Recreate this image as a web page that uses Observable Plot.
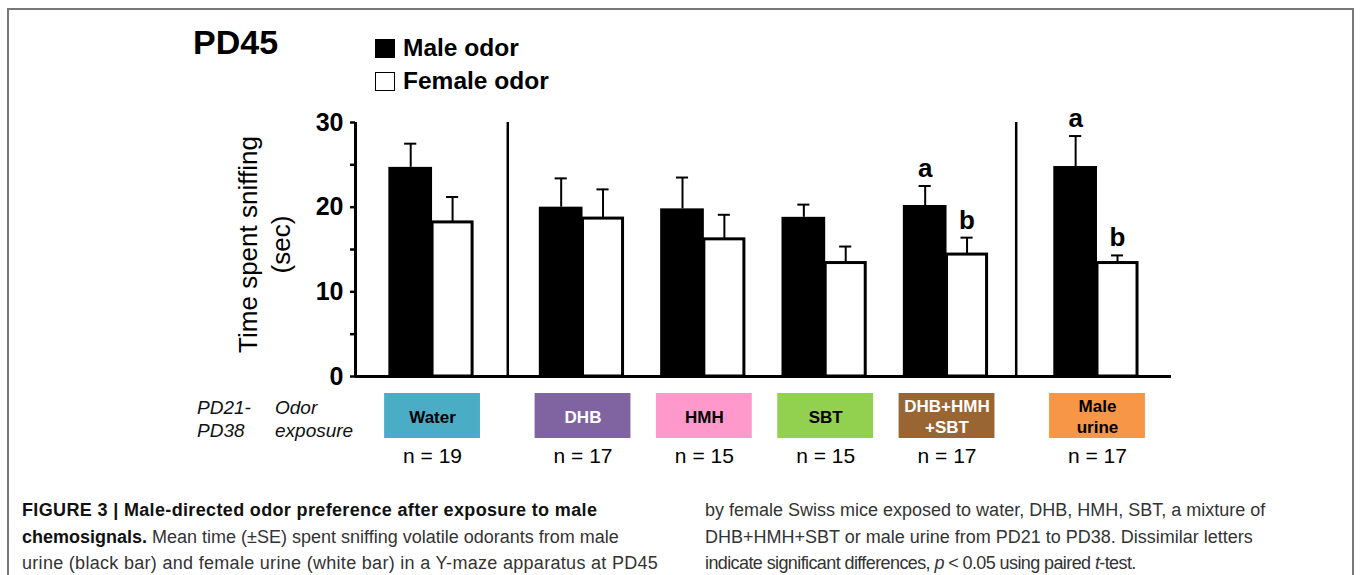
<!DOCTYPE html>
<html>
<head>
<meta charset="utf-8">
<script src="https://cdn.jsdelivr.net/npm/d3@7"></script>
<script src="https://cdn.jsdelivr.net/npm/@observablehq/plot@0.6"></script>
<style>
  html, body { margin: 0; padding: 0; background: #fff; }
  body { width: 1360px; height: 575px; overflow: hidden; position: relative;
         font-family: "Liberation Sans", Arial, Helvetica, sans-serif; color: #000; }
  .frame { position: absolute; left: 7px; top: 8px; width: 1347px; height: 640px;
           border: 2px solid #777; box-sizing: border-box; }
  .abs { position: absolute; white-space: nowrap; }
  #title { left: 193px; top: 25px; font-size: 34px; font-weight: bold; line-height: 1; }
  .leg { left: 375px; font-size: 24.5px; font-weight: bold; line-height: 1; display: flex; align-items: center; }
  .sw { display: inline-block; width: 20px; height: 19px; box-sizing: border-box; border: 1.5px solid #000; margin-right: 8px; }
  .side { font-size: 19px; font-style: italic; line-height: 23px; color: #111; }
  .cap { font-size: 18px; line-height: 26.5px; color: #333; }
  .cap b { color: #111; }
  .cap .b1 { letter-spacing: 0.35px; }
  .cap .l3 { letter-spacing: 0.3px; }
  .cap .r3 { letter-spacing: -0.6px; }
  #chart1 { position: absolute; left: 0; top: 100px; }
  #chart2 { position: absolute; left: 0; top: 393px; }
</style>
</head>
<body>
<div class="frame"></div>
<div id="title" class="abs">PD45</div>
<div class="abs leg" style="top:36px"><span class="sw" style="background:#000"></span>Male odor</div>
<div class="abs leg" style="top:69px"><span class="sw" style="background:#fff"></span>Female odor</div>
<div class="abs side" style="left:197px; top:396px">PD21-<br>PD38</div>
<div class="abs side" style="left:275px; top:396px">Odor<br>exposure</div>
<div id="chart1"></div>
<div id="chart2"></div>
<div class="abs cap" style="left:22px; top:497px">
<b class="b1">FIGURE 3 | Male-directed odor preference after exposure to male</b><br>
<b>chemosignals.</b> Mean time (±SE) spent sniffing volatile odorants from male<br>
<span class="l3">urine (black bar) and female urine (white bar) in a Y-maze apparatus at PD45</span>
</div>
<div class="abs cap" style="left:705px; top:497px">
by female Swiss mice exposed to water, DHB, HMH, SBT, a mixture of<br>
DHB+HMH+SBT or male urine from PD21 to PD38. Dissimilar letters<br>
<span class="r3">indicate significant differences, <i>p</i> &lt; 0.05 using paired <i>t</i>-test.</span>
</div>
<script>
// ---- data ----
const categories = ["Water", "DHB", "HMH", "SBT", "DHB+HMH+SBT", "Male urine"];
const boxLabels = ["Water", "DHB", "HMH", "SBT", "DHB+HMH\n+SBT", "Male\nurine"];
const boxColors = ["#4BACC6", "#8064A2", "#FF99CC", "#92D050", "#996633", "#F79646"];
const boxTextColors = ["#000", "#fff", "#000", "#000", "#fff", "#000"];
const groups = ["control", "chemosignal", "chemosignal", "chemosignal", "chemosignal", "urine"];
const nValues = [19, 17, 15, 15, 17, 17];
const maleMean = [24.7, 20.0, 19.8, 18.8, 20.2, 24.8];
const maleSE = [2.8, 3.4, 3.7, 1.5, 2.3, 3.6];
const femaleMean = [18.2, 18.65, 16.2, 13.4, 14.4, 13.4];
const femaleSE = [3.0, 3.45, 2.9, 1.95, 2.0, 0.9];
const maleLetters = ["", "", "", "", "a", "a"];
const femaleLetters = ["", "", "", "", "b", "b"];
const yTicks = [0, 5, 10, 15, 20, 25, 30];

// ---- layout in category slots (extra gap between groups) ----
const groupGap = 0.24;
let gaps = 0;
const rows = categories.map((c, i) => {
  if (i > 0 && groups[i] !== groups[i - 1]) gaps++;
  return {
    cat: c, pos: i + gaps * groupGap, label: boxLabels[i], color: boxColors[i],
    textColor: boxTextColors[i], n: nValues[i],
    m: maleMean[i], mse: maleSE[i], f: femaleMean[i], fse: femaleSE[i],
    ml: maleLetters[i], fl: femaleLetters[i]
  };
});
const separators = [];
for (let i = 1; i < rows.length; i++) {
  if (groups[i] !== groups[i - 1]) separators.push((rows[i].pos + rows[i - 1].pos) / 2 - (i === rows.length - 1 ? 0.05 : 0));
}
const xDomain = [-0.635, rows[rows.length - 1].pos + 0.61];
const mW = 0.36, fW = 0.33, capW = 0.05;
const mC = d => d.pos - mW / 2, fC = d => d.pos + fW / 2;
const font = '"Liberation Sans", Arial, Helvetica, sans-serif';

const chart1 = Plot.plot({
  width: 1360, height: 293,
  marginLeft: 355, marginRight: 189, marginTop: 22, marginBottom: 17,
  x: {domain: xDomain, axis: null},
  y: {domain: [0, 30], axis: null},
  style: {fontFamily: font, background: "transparent", overflow: "visible", color: "#000"},
  marks: [
    Plot.ruleX(separators, {y1: 0, y2: 30, strokeWidth: 2.5}),
    Plot.rectY(rows, {x1: d => d.pos, x2: d => d.pos + fW, y1: 0, y2: "f", fill: "#fff", stroke: "#000", strokeWidth: 3}),
    Plot.rectY(rows, {x1: d => d.pos - mW, x2: d => d.pos, y1: 0, y2: "m", fill: "#000"}),
    Plot.ruleX(rows, {x: mC, y1: "m", y2: d => d.m + d.mse, strokeWidth: 2}),
    Plot.ruleY(rows, {y: d => d.m + d.mse, x1: d => mC(d) - capW, x2: d => mC(d) + capW, strokeWidth: 2}),
    Plot.ruleX(rows, {x: fC, y1: "f", y2: d => d.f + d.fse, strokeWidth: 2}),
    Plot.ruleY(rows, {y: d => d.f + d.fse, x1: d => fC(d) - capW, x2: d => fC(d) + capW, strokeWidth: 2}),
    Plot.text(rows.filter(d => d.ml), {x: mC, y: d => d.m + d.mse, text: "ml", dy: -9, lineAnchor: "bottom", fontSize: 26, fontWeight: "bold"}),
    Plot.text(rows.filter(d => d.fl), {x: fC, y: d => d.f + d.fse, text: "fl", dy: -9, lineAnchor: "bottom", fontSize: 26, fontWeight: "bold"}),
    Plot.axisY({ticks: yTicks, tickFormat: d => d % 10 === 0 ? String(d) : "", tickSize: 5, tickPadding: 7,
                strokeWidth: 2.5, fontSize: 25, fontWeight: "bold", label: null}),
    Plot.ruleX([xDomain[0]], {y1: 0, y2: 30, strokeWidth: 3}),
    Plot.ruleY([0], {strokeWidth: 3}),
    Plot.text(["Time spent sniffing\n(sec)"], {frameAnchor: "left", textAnchor: "middle", lineAnchor: "middle", rotate: -90,
                dx: -93, dy: -5, fontSize: 26, lineHeight: 1.27})
  ]
});
document.getElementById("chart1").appendChild(chart1);

const chart2 = Plot.plot({
  width: 1360, height: 80,
  marginLeft: 355, marginRight: 189, marginTop: 0, marginBottom: 35,
  x: {domain: xDomain, axis: null},
  style: {fontFamily: font, background: "transparent", overflow: "visible", color: "#000"},
  marks: [
    Plot.rect(rows, {x1: d => d.pos - 0.395, x2: d => d.pos + 0.395, fill: "color"}),
    Plot.text(rows, {x: "pos", text: "label", fill: "textColor", frameAnchor: "middle", lineAnchor: "middle", fontSize: 17, fontWeight: "bold", lineHeight: 1.2}),
    Plot.text(rows, {x: "pos", text: d => `n = ${d.n}`, frameAnchor: "bottom", lineAnchor: "middle", dy: 18, fontSize: 21})
  ]
});
document.getElementById("chart2").appendChild(chart2);
</script>
</body>
</html>
